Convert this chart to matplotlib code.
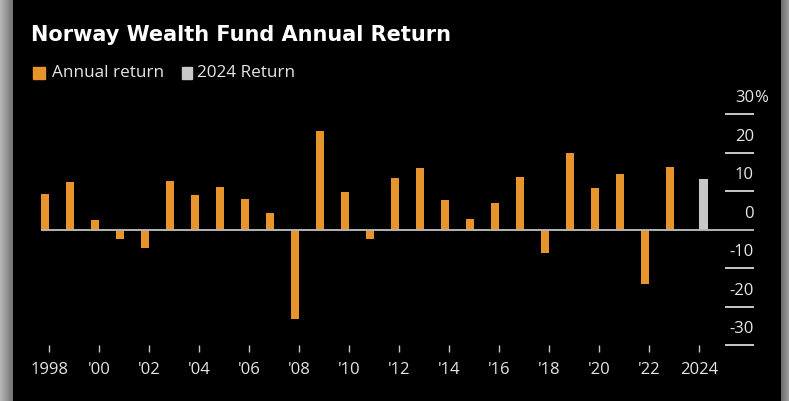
import numpy as np
import matplotlib
matplotlib.use("Agg")
import matplotlib.pyplot as plt
from matplotlib.patches import Rectangle

# ---- data ----
years = list(range(1998, 2024))
returns = [9.26, 12.44, 2.49, -2.47, -4.74, 12.59, 8.94, 11.09, 7.92, 4.26,
           -23.31, 25.62, 9.62, -2.54, 13.42, 15.95, 7.58, 2.74, 6.92, 13.66,
           -6.12, 19.95, 10.86, 14.51, -14.11, 16.14]
year_2024 = [2024]
return_2024 = [13.1]
tick_years = list(range(1998, 2025, 2))
tick_labels = ["1998", "'00", "'02", "'04", "'06", "'08", "'10", "'12", "'14",
               "'16", "'18", "'20", "'22", "2024"]
y_ticks = [30, 20, 10, 0, -10, -20, -30]
title = "Norway Wealth Fund Annual Return"
legend_labels = ["Annual return", "2024 Return"]

# ---- style ----
W, H = 789, 401
ORANGE = "#e8942c"
GRAY = "#c8c8c8"
FONT = "Open Sans"
TXT = "#e6e6e6"

fig = plt.figure(figsize=(W / 100, H / 100), dpi=100, facecolor="black")

def fx(px):
    return px / W

def fy(py):
    return 1 - py / H

# side gradients
grad_l = np.linspace(0.72, 0.45, 50).reshape(1, -1)
axl = fig.add_axes([0, 0, fx(13), 1])
axl.imshow(np.dstack([grad_l] * 3), aspect="auto", extent=[0, 1, 0, 1])
axl.axis("off")
grad_r = np.linspace(0.42, 0.62, 50).reshape(1, -1)
axr = fig.add_axes([fx(781), 0, fx(8), 1])
axr.imshow(np.dstack([grad_r] * 3), aspect="auto", extent=[0, 1, 0, 1])
axr.axis("off")

# main axes: x 41..754 px, y 114..345 px
ax = fig.add_axes([fx(41), fy(345), fx(754 - 41), (345 - 114) / H])
ax.set_facecolor("black")
x0 = 1998 - (49.3 - 41) / 25
x1 = 1998 + (754 - 49.3) / 25
ax.set_xlim(x0, x1)
ax.set_ylim(-30, 30)

bw = 0.35
ax.bar(years, returns, width=-bw, align="edge", color=ORANGE, zorder=2)
ax.bar(year_2024, return_2024, width=bw, align="edge", color=GRAY, zorder=2)
ax.axhline(0, color="#b4b4b4", lw=1.4, zorder=3)

seg_x0 = x1 - 29 / 25
for v in y_ticks:
    if v != 0:
        ax.hlines(v, seg_x0, x1, color="#d8d8d8", lw=1.3, clip_on=False)
    lab = str(v)
    ax.annotate(lab, xy=(x1, v), xycoords="data", xytext=(0, 11.2),
                textcoords="offset points", ha="right", va="center",
                color=TXT, fontsize=12, family=FONT, annotation_clip=False)
    if v == 30:
        ax.annotate("%", xy=(x1, v), xycoords="data", xytext=(0, 11.2),
                    textcoords="offset points", ha="left", va="center",
                    color=TXT, fontsize=12, family=FONT, annotation_clip=False)

for s in ax.spines.values():
    s.set_visible(False)
ax.set_yticks([])
ax.set_xticks(tick_years)
ax.set_xticklabels(tick_labels, family=FONT, fontsize=12, color=TXT)
ax.tick_params(axis="x", direction="out", length=5, width=1, color="#c8c8c8",
               pad=7)

# title
fig.text(fx(31), fy(35), title, family="DejaVu Sans", fontweight="bold",
         fontsize=15, color="white", ha="left", va="center")

# legend
fig.patches.append(Rectangle((fx(33), fy(79)), fx(12), 12 / H, color=ORANGE,
                             transform=fig.transFigure, figure=fig))
fig.text(fx(52), fy(73), legend_labels[0], family=FONT, fontsize=12.3,
         color=TXT, ha="left", va="center")
fig.patches.append(Rectangle((fx(182), fy(79)), fx(10), 12 / H, color=GRAY,
                             transform=fig.transFigure, figure=fig))
fig.text(fx(197), fy(73), legend_labels[1], family=FONT, fontsize=12.3,
         color=TXT, ha="left", va="center")

fig.savefig("out.png", dpi=100, facecolor="black")
